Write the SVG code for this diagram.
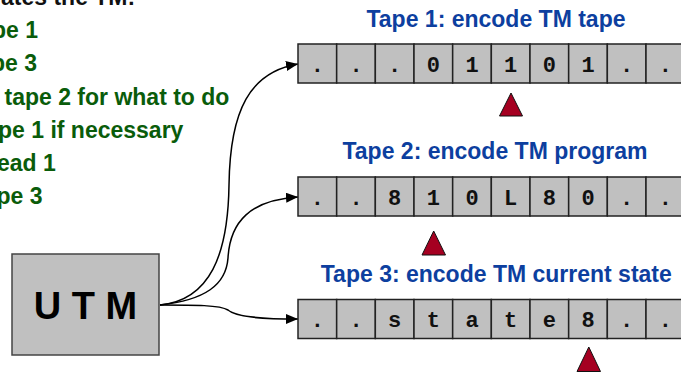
<svg xmlns="http://www.w3.org/2000/svg" width="681" height="373" viewBox="0 0 681 373">
<style>
.bg{fill:#fff}
.lt{font-family:"Liberation Sans",Arial,sans-serif;font-weight:bold;font-size:23px;fill:#0a5c0a}
.hd{font-family:"Liberation Sans",Arial,sans-serif;font-weight:bold;font-size:23px;fill:#111}
.tt{font-family:"Liberation Sans",Arial,sans-serif;font-weight:bold;font-size:23px;fill:#0d3f9f;text-anchor:middle}
.cell{fill:#c0c0c0;stroke:#222;stroke-width:1.5}
.ct{font-family:"Liberation Mono","Courier New",monospace;font-weight:bold;font-size:22px;fill:#111;text-anchor:middle}
.head{fill:#a50021;stroke:#111;stroke-width:1}
.box{fill:#c0c0c0;stroke:#444;stroke-width:1.5}
.bt{font-family:"Liberation Sans",Arial,sans-serif;font-weight:bold;font-size:38px;fill:#000;text-anchor:middle}
.conn{fill:none;stroke:#000;stroke-width:1.5}
</style>
<defs>
<marker id="arr" markerWidth="12" markerHeight="10" refX="12" refY="5" orient="auto" markerUnits="userSpaceOnUse">
<path d="M0,0 L12,5 L0,10 Z" fill="#000"/>
</marker>
<g id="cells">
<rect class="cell" x="0" y="0" width="38.67" height="39"/>
<rect class="cell" x="38.67" y="0" width="38.67" height="39"/>
<rect class="cell" x="77.33" y="0" width="38.67" height="39"/>
<rect class="cell" x="116" y="0" width="38.67" height="39"/>
<rect class="cell" x="154.67" y="0" width="38.67" height="39"/>
<rect class="cell" x="193.33" y="0" width="38.67" height="39"/>
<rect class="cell" x="232" y="0" width="38.67" height="39"/>
<rect class="cell" x="270.67" y="0" width="38.67" height="39"/>
<rect class="cell" x="309.33" y="0" width="38.67" height="39"/>
<rect class="cell" x="348" y="0" width="38.67" height="39"/>
</g>
</defs>
<rect class="bg" x="0" y="0" width="681" height="373"/>

<g id="instructions">
<text class="hd" x="1" y="5">ates the TM:</text>
<text class="lt" x="-8" y="38">pe 1</text>
<text class="lt" x="-9" y="71">pe 3</text>
<text class="lt" x="4.5" y="105">tape 2 for what to do</text>
<text class="lt" x="-2" y="138">pe 1 if necessary</text>
<text class="lt" x="-3" y="171">ead 1</text>
<text class="lt" x="-3.5" y="204">pe 3</text>
</g>

<g id="connectors">
<path class="conn" marker-end="url(#arr)" d="M160,305 C210,300 228,255 229,185 C230,110 250,72 298,64"/>
<path class="conn" marker-end="url(#arr)" d="M160,305 C205,300 226,285 228,258 C230,222 250,200 298,197"/>
<path class="conn" marker-end="url(#arr)" d="M160,305 C195,305 220,305 228,310 C236,317 260,319 298,319"/>
</g>

<g id="utm">
<rect class="box" x="12" y="254" width="147" height="101"/>
<text class="bt" x="85.5" y="319">U T M</text>
</g>

<g id="tape1">
<text class="tt" x="496" y="27">Tape 1: encode TM tape</text>
<use href="#cells" x="298" y="44"/>
<g class="ct">
<text x="317.3" y="71.5">.</text><text x="356" y="71.5">.</text><text x="394.7" y="71.5">.</text>
<text x="433.3" y="71.5">0</text><text x="472" y="71.5">1</text><text x="510.7" y="71.5">1</text>
<text x="549.3" y="71.5">0</text><text x="588" y="71.5">1</text><text x="626.7" y="71.5">.</text>
<text x="665.3" y="71.5">.</text>
</g>
<polygon class="head" points="511,93 522.5,116 499.5,116"/>
</g>

<g id="tape2">
<text class="tt" x="495" y="159">Tape 2: encode TM program</text>
<use href="#cells" x="298" y="177"/>
<g class="ct">
<text x="317.3" y="204.5">.</text><text x="356" y="204.5">.</text><text x="394.7" y="204.5">8</text>
<text x="433.3" y="204.5">1</text><text x="472" y="204.5">0</text><text x="510.7" y="204.5">L</text>
<text x="549.3" y="204.5">8</text><text x="588" y="204.5">0</text><text x="626.7" y="204.5">.</text>
<text x="665.3" y="204.5">.</text>
</g>
<polygon class="head" points="433.7,231 445.5,255 422,255"/>
</g>

<g id="tape3">
<text class="tt" x="496.3" y="281.5">Tape 3: encode TM current state</text>
<use href="#cells" x="298" y="299.5"/>
<g class="ct">
<text x="317.3" y="327">.</text><text x="356" y="327">.</text><text x="394.7" y="327">s</text>
<text x="433.3" y="327">t</text><text x="472" y="327">a</text><text x="510.7" y="327">t</text>
<text x="549.3" y="327">e</text><text x="588" y="327">8</text><text x="626.7" y="327">.</text>
<text x="665.3" y="327">.</text>
</g>
<polygon class="head" points="588.8,347 600.5,371.5 577,371.5"/>
</g>
</svg>
